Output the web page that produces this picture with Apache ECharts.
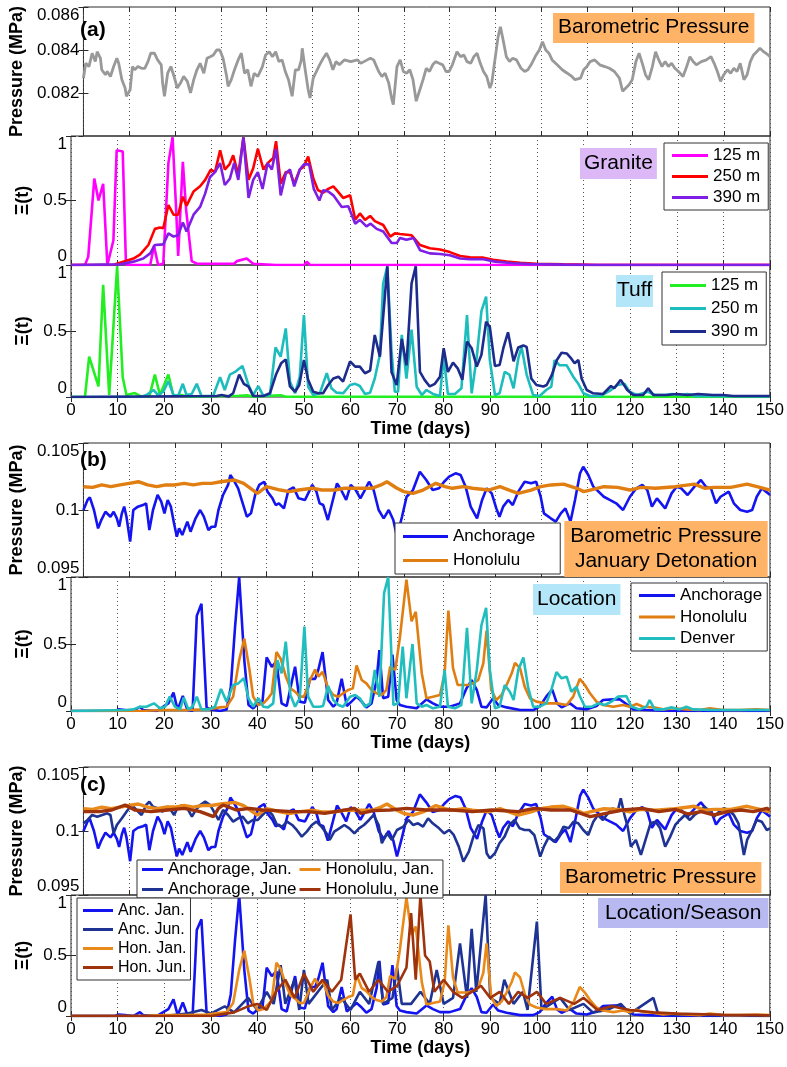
<!DOCTYPE html>
<html><head><meta charset="utf-8">
<script src="https://cdn.jsdelivr.net/npm/echarts@6/dist/echarts.min.js"></script>
<style>html,body{margin:0;padding:0;background:#fff}#c{width:787px;height:1067px}</style>
</head><body><div id="c"></div>
<script>
// ---------------- DATA (day, value) ----------------
const xTicks = [0,10,20,30,40,50,60,70,80,90,100,110,120,130,140,150];
const pressTicksA = [0.082,0.084,0.086];
const pressTicksB = [0.095,0.1,0.105];
const xiTicks = [0,0.5,1];

const pressA = [[0,0.08269],[0.5,0.08338],[1.2,0.08323],[1.9,0.08385],[2.6,0.08346],[3,0.08392],[3.7,0.08362],[4,0.08308],[4.8,0.08285],[5.2,0.0830],[5.9,0.08277],[6.6,0.08323],[7.3,0.08362],[7.7,0.08338],[8.4,0.08262],[9.1,0.08223],[9.4,0.08185],[10.2,0.08215],[10.7,0.08323],[11.2,0.08308],[11.9,0.08323],[12.7,0.08315],[13.4,0.08315],[14.1,0.08346],[14.7,0.08385],[15.5,0.08385],[16.2,0.08354],[17,0.08331],[17.3,0.08246],[17.7,0.08185],[18.4,0.08292],[19.1,0.08323],[19.8,0.08277],[20.5,0.08223],[21.2,0.08246],[21.9,0.08277],[22.7,0.08254],[23.4,0.0820],[24.1,0.08262],[24.8,0.08308],[25.5,0.08338],[26.3,0.08292],[27,0.08362],[27.7,0.08369],[28.4,0.08377],[29.1,0.0840],[29.8,0.0840],[30.5,0.08362],[31.3,0.08277],[31.6,0.08231],[32.3,0.08262],[33,0.08308],[33.8,0.08354],[34.5,0.08385],[35.2,0.08292],[35.9,0.08308],[36.6,0.08231],[37.3,0.08292],[38.1,0.08277],[39.1,0.08323],[39.8,0.08377],[40.6,0.08392],[41.3,0.08369],[42,0.08392],[42.7,0.08346],[43.4,0.08354],[44.1,0.0830],[44.8,0.08262],[45.6,0.08185],[46.3,0.08308],[47,0.08308],[47.6,0.08354],[47.8,0.08408],[48.4,0.08315],[49.1,0.08215],[49.5,0.08177],[50.2,0.08269],[50.9,0.0830],[51.6,0.08331],[52.4,0.08362],[53.1,0.08385],[53.8,0.08354],[54.5,0.08308],[55.2,0.08346],[55.9,0.08331],[57,0.08354],[58.4,0.08346],[59.9,0.08354],[60.6,0.08338],[61.3,0.08346],[62,0.08354],[62.7,0.08362],[63.4,0.08354],[64.5,0.0830],[65.2,0.08277],[65.9,0.08292],[66.7,0.08246],[67.4,0.08169],[67.7,0.08146],[68.5,0.08323],[69.2,0.08354],[69.9,0.0830],[70.6,0.08292],[71.3,0.08308],[72,0.08262],[72.7,0.08162],[73.5,0.08215],[74.2,0.08262],[74.9,0.08315],[75.6,0.0830],[76.3,0.08331],[77,0.08346],[77.7,0.08338],[78.5,0.08331],[79.2,0.0830],[79.9,0.0830],[80.6,0.08331],[81.6,0.08392],[82.4,0.08369],[83.1,0.08377],[83.8,0.08346],[84.6,0.08338],[85.3,0.08369],[86,0.08385],[86.7,0.08338],[87.4,0.0830],[88.1,0.08277],[88.8,0.08223],[89.2,0.08246],[89.9,0.08354],[90.6,0.08462],[91.1,0.08508],[91.7,0.08446],[92.4,0.08369],[93.1,0.08346],[93.8,0.08362],[94.6,0.08354],[95.6,0.08315],[96.4,0.0830],[97.1,0.08308],[97.8,0.08331],[98.9,0.08377],[99.6,0.0840],[100.3,0.08438],[101,0.0840],[101.7,0.08385],[102.4,0.08354],[103.5,0.08331],[104.6,0.08308],[105.7,0.08292],[106.7,0.08277],[107.4,0.08262],[108.6,0.08269],[109.3,0.08308],[110,0.08323],[110.7,0.08346],[111.7,0.08354],[112.8,0.08331],[113.9,0.08323],[114.9,0.08315],[116,0.0830],[117.1,0.08269],[117.8,0.08208],[118.5,0.08223],[119.2,0.08238],[119.9,0.08262],[120.7,0.08346],[121.4,0.08385],[122.1,0.08338],[122.8,0.08285],[123.5,0.08262],[124.3,0.08323],[125,0.08392],[125.7,0.08354],[126.4,0.08323],[127.1,0.08346],[127.8,0.08323],[128.5,0.08338],[129.2,0.08315],[130,0.0830],[131,0.08277],[131.8,0.08323],[132.5,0.08369],[133.2,0.08346],[133.9,0.08331],[135,0.08346],[136.1,0.08354],[137.1,0.08369],[137.8,0.08338],[138.5,0.0830],[139.2,0.08254],[139.9,0.08285],[140.7,0.08308],[141.4,0.08292],[142.1,0.08315],[142.8,0.0830],[143.5,0.08338],[144.3,0.08262],[145,0.08285],[145.7,0.08346],[146.4,0.08377],[147.1,0.08392],[147.8,0.08408],[148.6,0.08392],[149.6,0.08377],[150,0.08369]];

const granite125 = [[0,0],[3,0],[3.7,0.065],[5,0.67],[5.9,0.50],[6.9,0.63],[7.8,0],[9.1,0.19],[9.8,0.89],[11.1,0.88],[11.8,0],[17,0],[17.8,0.15],[18.7,0],[19.8,0.01],[20.9,0.79],[21.8,0.99],[22.5,0.48],[23,0.07],[24,0.80],[24.7,0.43],[25.9,0.03],[27,0.01],[30,0.01],[35,0.01],[35.6,0.03],[37.7,0.05],[39.1,0.01],[44,0],[50,0],[50.6,0.025],[51.3,0],[150,0]];
const granite250 = [[0,0],[9,0],[11.2,0.026],[13.4,0.05],[14.8,0.08],[16.6,0.155],[18,0.28],[19.1,0.29],[19.8,0.285],[20.9,0.465],[22,0.39],[23,0.39],[24,0.53],[24.8,0.46],[26.3,0.57],[27.7,0.61],[28.8,0.66],[30,0.74],[30.9,0.72],[32,0.89],[33,0.74],[34,0.78],[34.8,0.85],[35.9,0.70],[37,0.99],[38.1,0.66],[39.1,0.75],[40.1,0.90],[41.3,0.74],[42.2,0.79],[43.4,0.83],[44,0.96],[45,0.63],[46.1,0.72],[47,0.72],[47.9,0.63],[49.1,0.74],[49.9,0.76],[50.9,0.84],[52,0.67],[53,0.58],[54.1,0.56],[55.2,0.59],[56.3,0.61],[57,0.58],[58.4,0.52],[59.9,0.54],[61,0.35],[62,0.40],[63.1,0.35],[64.2,0.38],[65.2,0.34],[67,0.31],[68.5,0.22],[69.5,0.245],[70.6,0.24],[73.1,0.23],[74.9,0.155],[77,0.13],[79.2,0.12],[81.3,0.10],[83.5,0.07],[85.6,0.06],[88.5,0.057],[90.6,0.04],[93.5,0.026],[96.4,0.018],[99.9,0.01],[105.7,0.005],[113,0],[150,0]];
const granite390 = [[0,0],[10.5,0.005],[13.4,0.026],[15.5,0.05],[17,0.09],[18,0.155],[19.8,0.16],[20.9,0.245],[22,0.22],[23,0.23],[24,0.33],[24.8,0.26],[26.3,0.39],[27.7,0.45],[28.8,0.555],[29.8,0.68],[30.9,0.72],[32,0.79],[33,0.62],[34.1,0.67],[35,0.79],[35.9,0.66],[37,0.99],[38.1,0.52],[39.1,0.66],[40.1,0.72],[41.1,0.59],[42.2,0.79],[43.1,0.74],[44,0.90],[45,0.54],[46.1,0.71],[47,0.74],[47.9,0.61],[49.1,0.74],[50,0.78],[51.1,0.78],[52.1,0.59],[53.3,0.50],[54.1,0.58],[55.2,0.57],[56.3,0.54],[58.1,0.45],[59.5,0.455],[61,0.32],[62,0.35],[63.4,0.30],[64.3,0.32],[65.6,0.28],[67,0.26],[68.8,0.17],[69.9,0.17],[70.6,0.21],[72,0.195],[73.5,0.21],[74.9,0.115],[77,0.09],[79.2,0.085],[81.3,0.075],[83.5,0.05],[85.6,0.045],[88.5,0.045],[91,0.026],[95,0.013],[98.5,0.008],[105.7,0.003],[112,0],[150,0]];

const tuff125 = [[0,0],[3,0],[3.9,0.305],[5.9,0.08],[6.9,0.85],[8.2,0.015],[9.9,0.99],[11.1,0.15],[11.9,0.015],[13.7,0.03],[14.8,0.008],[16.8,0.003],[18,0.17],[19.1,0.015],[20.9,0.17],[22,0.008],[23.7,0.015],[25,0.003],[36,0.01],[38,0.012],[39,0.003],[45,0.013],[46,0.003],[150,0]];
const tuff250 = [[0,0],[15,0],[16.2,0.015],[17.7,0.053],[18.7,0.015],[19.8,0.04],[20.9,0.12],[22,0.015],[23,0.008],[24,0.10],[24.8,0.015],[25.9,0.023],[27,0.10],[28,0.008],[30.5,0.008],[32,0.15],[33,0.053],[34.1,0.17],[35.2,0.19],[36.8,0.235],[38.1,0.09],[39.1,0.015],[40.2,0.083],[41.3,0.008],[42.7,0.015],[43.9,0.375],[45,0.305],[46.1,0.52],[47,0.116],[48.1,0.028],[49.1,0.154],[50,0.62],[50.9,0.078],[52,0.015],[53.4,0.028],[54.9,0.18],[55.9,0.066],[57,0.033],[58.4,0.028],[59.9,0.091],[61,0.10],[62,0.083],[63.1,0.023],[64.2,0.033],[65.2,0.14],[66.3,0.32],[67,0.86],[67.9,0.99],[68.8,0.35],[69.5,0.04],[70.2,0.04],[71,0.47],[72,0.14],[73.1,0.51],[74.2,0.078],[75.3,0.015],[76.3,0.053],[77.7,0.023],[79.2,0.008],[80,0.305],[80.9,0.023],[82.4,0.023],[83.8,0.066],[85,0.62],[86,0.028],[87.1,0.305],[88.1,0.65],[89.1,0.76],[89.9,0.28],[91,0.015],[92,0.028],[93.1,0.19],[94.1,0.17],[95,0.066],[96,0.29],[96.7,0.38],[97.8,0.17],[99.2,0.015],[100.6,0.008],[102,0.053],[103.1,0.078],[103.8,0.28],[104.9,0.24],[106.4,0.24],[107.8,0.154],[108.9,0.10],[110,0.028],[111.4,0.008],[113.7,0.008],[115.9,0.053],[117.3,0.091],[118.8,0.10],[119.9,0.04],[121.4,0.015],[123.9,0.04],[125.3,0.015],[127.5,0.015],[129,0.023],[131,0.015],[132.3,0.023],[134,0.008],[150,0.005]];
const tuff390 = [[0,0],[31.3,0.008],[32.3,0.015],[33.8,0.003],[34.8,0.028],[36.1,0.17],[37.1,0.10],[38.1,0.078],[39.1,0.008],[41.3,0.008],[42.7,0.028],[44,0.17],[45.1,0.255],[46.1,0.285],[47,0.08],[48.1,0.04],[49,0.091],[50,0.28],[50.9,0.13],[52,0.04],[53.1,0.028],[54.1,0.028],[55.2,0.091],[56.3,0.14],[57.4,0.154],[58.4,0.116],[59.9,0.27],[61,0.23],[62,0.23],[63.1,0.18],[64.2,0.20],[65.2,0.47],[66.3,0.305],[67.9,0.99],[68.8,0.19],[69.9,0.09],[71,0.44],[72,0.24],[73.1,0.86],[74,0.99],[74.9,0.19],[75.9,0.13],[77,0.08],[78.1,0.10],[79.2,0.154],[80,0.37],[80.9,0.19],[82,0.26],[83,0.217],[84,0.13],[85,0.42],[86,0.37],[87.1,0.23],[88.1,0.32],[89.1,0.57],[89.9,0.53],[91,0.235],[92,0.242],[92.8,0.37],[93.8,0.49],[95,0.27],[96,0.375],[97.1,0.39],[97.8,0.38],[98.8,0.14],[99.9,0.091],[101.4,0.08],[102.1,0.091],[103.2,0.166],[104.3,0.28],[105.3,0.335],[106.4,0.33],[107.4,0.29],[108.1,0.255],[108.9,0.28],[109.6,0.14],[110.7,0.053],[112.1,0.028],[114.2,0.023],[115.9,0.083],[116.6,0.066],[118,0.13],[119.4,0.053],[120.7,0.015],[122.8,0.015],[123.9,0.066],[125,0.015],[127.9,0.015],[130,0.023],[132.3,0.015],[134.6,0.023],[137.8,0.015],[140,0.015],[142.1,0.008],[150,0.008]];

const pressAnchJan = [[0,0.1],[0.9,0.10075],[1.4,0.10094],[2.3,0.1],[3.2,0.09863],[3.9,0.09925],[4.8,0.09987],[5.9,0.0995],[6.6,0.09987],[7.3,0.09938],[7.8,0.09875],[8.4,0.09975],[8.9,0.10025],[9.4,0.0995],[10.2,0.09764],[10.9,0.1],[11.9,0.10025],[13,0.10037],[13.7,0.1005],[14.4,0.0985],[15.2,0.1],[16.2,0.10112],[17,0.10062],[17.7,0.09975],[18.4,0.10075],[19.1,0.10025],[19.8,0.099],[20.4,0.09801],[20.9,0.09863],[21.6,0.09813],[22.7,0.09913],[23.4,0.09838],[24.5,0.09938],[25.5,0.1],[26.3,0.0995],[27.3,0.0985],[28,0.09875],[28.8,0.09875],[29.5,0.1],[30.5,0.10112],[31.6,0.10187],[32.1,0.10261],[32.8,0.10224],[33.8,0.10162],[34.8,0.1005],[35.7,0.0995],[36.6,0.09975],[37.6,0.10124],[38.4,0.10187],[39.5,0.10211],[40.2,0.10137],[41.3,0.10087],[42,0.10037],[42.7,0.1005],[43.8,0.10012],[44.8,0.10149],[45.9,0.10169],[47,0.10087],[48.4,0.10075],[49.1,0.10124],[50,0.10187],[50.9,0.10137],[51.6,0.1005],[52.4,0.10037],[53.4,0.09925],[54.5,0.10075],[55.4,0.10199],[56.3,0.10149],[57.4,0.10075],[58.4,0.10187],[59.5,0.10149],[60.5,0.10087],[61.3,0.10137],[62.4,0.10211],[63.4,0.10149],[64.5,0.1],[65.6,0.09938],[66.7,0.1],[67.7,0.09925],[68.5,0.09801],[69.6,0.0995],[70.6,0.10099],[72,0.10149],[73.5,0.10286],[74.9,0.10224],[76.3,0.10149],[77.7,0.10162],[78.8,0.10211],[79.9,0.10249],[81.3,0.10274],[82.4,0.10261],[83.5,0.10174],[84.6,0.10025],[86,0.09938],[87.1,0.10075],[88.1,0.10162],[89.2,0.10124],[90.2,0.10012],[90.9,0.0995],[91.7,0.10025],[92.8,0.10075],[93.8,0.10037],[95,0.10137],[96.4,0.10211],[97.8,0.10199],[98.9,0.10211],[99.9,0.10099],[100.6,0.09975],[102.1,0.09938],[103.2,0.09913],[104.3,0.09975],[105.3,0.10012],[106.4,0.09913],[107.4,0.10075],[108.5,0.10274],[109.2,0.10323],[110.3,0.10261],[111.4,0.10174],[113.7,0.10099],[115,0.10075],[116.4,0.1005],[117.9,0.1],[119.4,0.10099],[120.8,0.10162],[122.1,0.10187],[123.2,0.10149],[124.2,0.10025],[125.3,0.10087],[127.1,0.10012],[128.5,0.10124],[129.6,0.10174],[130.6,0.10162],[132,0.10112],[133.5,0.10174],[134.9,0.10224],[136,0.10174],[137.1,0.10162],[138.2,0.1005],[139.2,0.10099],[141,0.10137],[142.1,0.1005],[143.5,0.1],[145,0.09987],[146.1,0.1],[147.1,0.10099],[148.2,0.10162],[149.6,0.10124],[150,0.10112]];
const pressHonJan = [[0,0.10174],[2,0.10169],[4,0.10187],[6,0.10174],[8,0.10187],[10,0.10199],[12,0.10211],[14,0.10187],[16,0.10174],[18,0.10187],[20,0.10187],[22,0.10199],[24,0.10187],[26,0.10199],[28,0.10199],[30,0.10211],[33,0.10224],[35,0.10199],[36.5,0.10162],[38,0.10124],[40,0.10174],[41.5,0.10162],[43,0.10149],[45,0.10137],[47,0.10149],[50,0.10162],[52,0.10149],[55,0.10149],[57,0.10162],[60,0.10162],[63,0.10162],[65,0.10187],[66.3,0.10211],[68.5,0.10162],[70,0.10137],[72,0.10124],[74.2,0.10149],[77,0.10199],[79,0.10174],[80.6,0.10162],[83,0.10174],[85,0.10162],[88.5,0.10149],[91,0.10174],[93,0.10149],[95,0.10124],[97.8,0.10149],[99.9,0.10174],[102.1,0.10187],[104.9,0.10193],[107.8,0.10162],[109.3,0.10137],[110.7,0.10149],[113.7,0.10174],[116.7,0.10169],[119.4,0.10149],[121.8,0.10169],[125,0.10162],[129.3,0.10174],[133.5,0.10193],[135.7,0.10162],[137.8,0.10169],[141.4,0.10169],[145,0.10193],[147.8,0.10169],[150,0.10149]];
const pressAnchJun = [[0,0.1006],[0.9,0.10086],[1.9,0.10125],[3,0.10112],[4.1,0.10125],[5.2,0.10138],[5.9,0.10125],[6.6,0.09982],[7.3,0.10047],[8.4,0.10099],[9.4,0.10151],[10.5,0.10203],[11.6,0.10164],[12.7,0.10125],[13.7,0.10203],[14.4,0.10229],[15.2,0.1019],[16.2,0.10177],[17.3,0.10151],[18.4,0.1019],[19.1,0.10164],[19.8,0.10125],[20.5,0.10177],[21.6,0.10203],[22.7,0.10177],[23.7,0.10112],[24.5,0.10164],[25.5,0.10203],[26.6,0.10229],[27.7,0.10203],[28.5,0.10151],[29.5,0.10086],[30.5,0.10164],[31.6,0.10125],[32.7,0.10073],[33.8,0.10099],[34.8,0.10112],[35.9,0.1006],[37,0.10086],[38.1,0.10086],[39.1,0.10125],[40.2,0.10164],[41.3,0.10125],[42.3,0.10047],[43.4,0.10034],[44.5,0.10073],[45.6,0.10047],[46.6,0.10008],[47.7,0.09956],[48.8,0.09995],[49.9,0.10047],[50.9,0.10073],[52,0.10034],[53.1,0.09982],[53.8,0.0993],[54.8,0.09995],[55.9,0.10021],[57,0.10047],[58.1,0.10021],[59.2,0.09982],[60.2,0.10021],[61.3,0.10047],[62.4,0.10086],[63.4,0.10125],[64.5,0.10047],[65.2,0.09904],[66.3,0.09982],[67.4,0.0993],[68.5,0.10008],[69.9,0.10034],[71,0.10086],[72,0.10047],[73.1,0.1006],[74.2,0.10034],[75.3,0.10099],[76.3,0.1006],[77.7,0.10021],[78.8,0.09982],[79.9,0.10008],[80.9,0.09969],[82,0.09878],[83,0.0976],[84.2,0.09839],[85.2,0.09956],[86.3,0.10047],[87.4,0.10021],[88.1,0.09826],[88.8,0.09786],[89.9,0.09826],[90.9,0.09904],[92,0.09956],[93.1,0.10047],[94.2,0.10086],[95.3,0.10021],[96.4,0.10008],[97.4,0.10008],[98.5,0.09969],[99.8,0.098],[100.6,0.09878],[101.7,0.09956],[102.8,0.09917],[103.8,0.09956],[104.9,0.10034],[106,0.10021],[107.1,0.10073],[108.1,0.1006],[109.2,0.10008],[110.3,0.09969],[111.4,0.10073],[112.4,0.10125],[113.5,0.10086],[114.6,0.10138],[115.6,0.10177],[116.7,0.10151],[117.4,0.10255],[118.2,0.10125],[118.9,0.10034],[119.6,0.09878],[120.7,0.0993],[121.8,0.09813],[122.8,0.0993],[123.9,0.1006],[125,0.10073],[126,0.10021],[127.1,0.09878],[128.2,0.09956],[129.3,0.10047],[130.3,0.10086],[131.4,0.10125],[132.5,0.10086],[133.5,0.10125],[134.6,0.10151],[135.7,0.1019],[136.8,0.10151],[137.8,0.10112],[138.9,0.10151],[139.9,0.10177],[141,0.10164],[142.1,0.10125],[143.1,0.1006],[144.3,0.09813],[145,0.0993],[146.1,0.10008],[147.1,0.10086],[148.2,0.10073],[149.3,0.10008],[150,0.10021]];
const pressHonJun = [[0,0.10151],[3.4,0.10151],[6.2,0.10164],[9.1,0.10203],[11.2,0.10164],[14.8,0.10151],[18.4,0.10164],[22,0.10177],[25.5,0.10151],[28.4,0.10112],[29.5,0.10177],[30.5,0.10203],[33.4,0.10164],[36.3,0.10177],[39.1,0.10164],[42,0.10159],[45.6,0.10151],[49.1,0.10151],[52.7,0.10138],[56.3,0.10159],[59.2,0.10177],[60.6,0.10138],[63.4,0.10159],[67,0.10164],[70.6,0.10177],[74.9,0.10164],[80.6,0.10164],[85,0.10151],[89.2,0.10164],[95,0.10151],[98.5,0.10177],[102.1,0.10164],[106.4,0.10164],[110.7,0.10112],[115,0.10143],[117.8,0.10164],[122.1,0.10177],[125.7,0.10151],[129.3,0.10169],[132.1,0.10133],[135,0.10151],[137.8,0.10125],[140.7,0.10151],[143.6,0.10164],[146.4,0.10151],[149.3,0.10177],[150,0.10164]];

const locAnchJan = [[0,0],[9.5,0],[10.2,0.012],[11.6,0.007],[13.4,0],[14.8,0.032],[15.5,0.007],[18.4,0],[19.8,0.032],[20.9,0.057],[22,0.137],[22.9,0.007],[24,0.112],[25,0.007],[26.1,0],[27,0.71],[28,0.80],[29.1,0.027],[30,0.012],[32,0],[33.4,0.012],[34.3,0.18],[35.2,0.62],[36.1,1.0],[37.2,0.38],[38.1,0.045],[39.1,0.02],[40.2,0.057],[41.1,0.07],[42,0.40],[43.1,0.33],[44.1,0.37],[45.2,0.057],[46.3,0.037],[47.4,0.22],[48.1,0.33],[49.1,0.07],[50.2,0.062],[51.3,0.24],[52.4,0.24],[53.1,0.31],[54,0.44],[55.2,0.082],[56.3,0.032],[57,0.057],[58.1,0.24],[59.2,0.037],[60.2,0.07],[61.3,0.107],[62.4,0.07],[63.4,0.027],[64.5,0.057],[65.6,0.23],[66.2,0.455],[67,0.095],[68.1,0.107],[69,0.42],[69.9,0.082],[70.6,0.045],[72,0.032],[74.2,0.02],[76.3,0.087],[77.7,0.057],[79.2,0.032],[81.3,0.032],[83.5,0.057],[84.9,0.17],[86,0.23],[87.1,0.157],[88.1,0.032],[89.2,0.027],[90.6,0.095],[91.7,0.045],[93.5,0.027],[96.4,0.007],[99.2,0.007],[100.6,0.032],[102,0.107],[103.3,0.16],[104.3,0.057],[105.3,0.027],[107.1,0.057],[108.5,0.02],[110.7,0.012],[112.8,0.037],[114.2,0.082],[116.4,0.087],[117.8,0.087],[119.2,0.052],[120.7,0.012],[123.5,0.007],[127.1,0.002],[130,0],[150,0]];
const locHonJan = [[0,0],[16,0.002],[20.5,0.007],[24.8,0.007],[29.1,0.012],[32,0.027],[33.4,0.032],[34.8,0.107],[36.1,0.38],[37.2,0.54],[38.3,0.31],[39.1,0.107],[40.2,0.045],[41.3,0.057],[42.3,0.095],[43.1,0.132],[44.1,0.44],[45,0.39],[46.1,0.26],[47.1,0.17],[48.1,0.144],[49.1,0.107],[50,0.107],[51.3,0.23],[52.4,0.31],[53.1,0.256],[54,0.293],[55.2,0.169],[56.3,0.119],[57.4,0.107],[58.4,0.132],[59.5,0.157],[60.5,0.169],[61.3,0.34],[62.4,0.231],[63.4,0.206],[64.5,0.157],[65.6,0.132],[66.7,0.119],[67.7,0.157],[68.5,0.331],[69.6,0.306],[70.6,0.55],[72,0.98],[73.1,0.67],[74,0.74],[75.3,0.28],[76.3,0.095],[77.7,0.107],[79.2,0.119],[80.2,0.281],[81,0.75],[82,0.32],[83,0.194],[84.1,0.194],[85.2,0.194],[86.2,0.206],[87.4,0.231],[88.5,0.356],[89.2,0.60],[90.2,0.157],[91.3,0.082],[92.4,0.119],[93.5,0.194],[94.6,0.281],[95.3,0.36],[96.4,0.318],[97.4,0.18],[98.5,0.095],[99.9,0.07],[102,0.057],[104.3,0.057],[106.4,0.045],[107.8,0.107],[109.2,0.24],[110.3,0.194],[111.4,0.132],[112.8,0.07],[114.2,0.045],[116.4,0.032],[118.5,0.045],[120,0.032],[121.4,0.052],[122.8,0.032],[125,0.027],[127.1,0.012],[129.3,0.02],[132.1,0.012],[135,0.007],[137.1,0.02],[140,0.007],[143.6,0.007],[147.1,0.012],[150,0.007]];
const locDenJan = [[0,0],[11.9,0.007],[13.4,0.012],[14.8,0.032],[16.2,0.032],[17.8,0.057],[19.1,0.02],[20.2,0.032],[21.2,0.107],[22.3,0.032],[23.4,0.012],[24.2,0.10],[25.2,0.012],[26.1,0.032],[27,0.107],[28,0.012],[29.5,0.012],[30.9,0.032],[32.2,0.164],[33.4,0.07],[34.8,0.194],[35.9,0.206],[37.1,0.244],[38.1,0.095],[39.1,0.032],[40.2,0.095],[41.3,0.032],[42.3,0.027],[43.4,0.057],[44.3,0.38],[45.2,0.281],[46.1,0.517],[47.1,0.119],[48.1,0.032],[49.1,0.095],[50.1,0.63],[50.9,0.107],[52,0.032],[53.4,0.032],[54.1,0.037],[55.2,0.187],[56.3,0.082],[57.4,0.045],[58.4,0.032],[59.9,0.107],[61,0.119],[62,0.095],[63.1,0.032],[64.2,0.057],[65.2,0.306],[66.2,0.107],[67.2,0.88],[68.1,1.0],[69.2,0.045],[70.2,0.057],[71.2,0.48],[72,0.095],[73.3,0.50],[74.2,0.057],[75.3,0.032],[76.3,0.045],[77.7,0.02],[79.2,0.032],[80.2,0.306],[80.9,0.032],[82.4,0.02],[83.8,0.045],[85,0.62],[86,0.057],[87.1,0.306],[88.1,0.64],[89.1,0.77],[89.9,0.306],[91,0.02],[92,0.032],[93.1,0.194],[94.2,0.144],[95,0.082],[96,0.306],[97.1,0.40],[98.1,0.18],[99.2,0.032],[100.6,0.032],[102,0.057],[103.1,0.157],[104.2,0.29],[105.3,0.244],[106.4,0.256],[107.4,0.144],[108.5,0.181],[109.2,0.112],[110.3,0.032],[111.8,0.032],[113.2,0.057],[114.6,0.045],[116,0.07],[117.4,0.107],[119.2,0.112],[120.3,0.032],[122,0.012],[123.5,0.032],[124.2,0.082],[125.3,0.012],[127.1,0.012],[128.9,0.027],[130.6,0.012],[132.1,0.032],[133.5,0.012],[137.8,0.007],[150,0.007]];

const seasonAncJun = [[0,0],[20,0],[25,0.02],[28,0.05],[30,0.02],[33,0.08],[35,0.03],[38,0.15],[40,0.05],[42,0.2],[43.5,0.1],[45,0.42],[46,0.1],[48,0.3],[49,0.05],[50,0.38],[51,0.1],[53,0.2],[55,0.3],[56,0.05],[58,0.15],[60,0.05],[62,0.2],[64,0.1],[66,0.45],[67,0.1],[69,0.15],[70,0.4],[71,0.1],[73,0.1],[75,0.2],[77,0.1],[78.5,0.38],[80,0.1],[82,0.15],[83.5,0.6],[85,0.15],[86,0.72],[87,0.2],[89,1.0],[90,0.15],[92,0.1],[93,0.3],[95,0.1],[97,0.2],[98,0.05],[100,0.78],[101,0.05],[103,0.1],[105,0.15],[107,0.05],[110,0.1],[112,0.03],[115,0.05],[118,0.1],[120,0.02],[125,0.15],[126,0.02],[130,0.01],[150,0]];
const seasonHonJun = [[0,0],[30,0],[35,0.03],[38,0.08],[40,0.1],[42,0.05],[44,0.2],[46,0.3],[48,0.15],[50,0.35],[52,0.2],[54,0.3],[56,0.2],[58,0.3],[60,0.84],[61,0.3],[62,0.35],[64,0.2],[66,0.3],[68,0.2],[70,0.25],[72,0.4],[73,0.85],[74,0.3],[75,1.0],[76,0.5],[77,0.45],[78,0.2],[80,0.3],[82,0.2],[84,0.15],[86,0.2],[88,0.25],[90,0.15],[92,0.2],[94,0.1],[96,0.2],[98,0.15],[100,0.2],[102,0.1],[105,0.15],[108,0.1],[110,0.15],[113,0.05],[116,0.08],[120,0.05],[125,0.03],[130,0.02],[140,0.01],[150,0.005]];

// ---------------- LAYOUT ----------------
const FONT = 'Liberation Sans, Arial, sans-serif';
const L = 71, R = 17;
const panels = [
  {top:7,   h:129, kind:'pA', xl:false},
  {top:136, h:129, kind:'xi', xl:false},
  {top:265, h:132, kind:'xi', xl:true},
  {top:443, h:134, kind:'pB', xl:false},
  {top:577, h:134, kind:'xi', xl:true},
  {top:767, h:128, kind:'pB', xl:false},
  {top:895, h:121, kind:'xi', xl:true}
];
const grid = [], xAxis = [], yAxis = [];
panels.forEach((p,i)=>{
  grid.push({left:L, right:R, top:p.top, height:p.h, show:true, borderColor:'#2a2a2a', borderWidth:1, containLabel:false});
  xAxis.push({type:'value', gridIndex:i, min:xTicks[0], max:xTicks[xTicks.length-1], interval:xTicks[1]-xTicks[0],
    axisLine:{show:false}, axisTick:{show:true, inside:true, length:5, lineStyle:{color:'#2a2a2a'}},
    splitLine:{show:true, lineStyle:{color:'#555', type:[1,3], width:1}},
    axisLabel:{show:p.xl, color:'#000', fontSize:17, fontFamily:FONT, margin:5},
    name:p.xl?'Time (days)':'', nameLocation:'middle', nameGap:21,
    nameTextStyle:{fontSize:18, fontWeight:'bold', color:'#000', fontFamily:FONT}});
  xAxis.push({type:'value', gridIndex:i, position:'top', min:xTicks[0], max:xTicks[xTicks.length-1], interval:xTicks[1]-xTicks[0],
    axisLine:{show:false}, axisTick:{show:true, inside:true, length:5, lineStyle:{color:'#2a2a2a'}},
    splitLine:{show:false}, axisLabel:{show:false}});
  let t = p.kind==='pA'?pressTicksA : (p.kind==='pB'?pressTicksB:xiTicks);
  let mn = p.kind==='pA'?0.080 : t[0];
  let itv = t[1]-t[0];
  let isP = p.kind!=='xi';
  yAxis.push({type:'value', gridIndex:i, min:mn, max:t[t.length-1], interval:itv,
    axisLine:{show:false}, axisTick:{show:true, inside:true, length:5, lineStyle:{color:'#2a2a2a'}},
    splitLine:{show:false},
    axisLabel:{color:'#000', fontSize:17, fontFamily:FONT, margin:4, showMinLabel:p.kind!=='pA',
      verticalAlignMinLabel:'bottom', verticalAlignMaxLabel:'top',
      formatter:v=>String(+v.toFixed(4))},
    name:isP?'Pressure (MPa)':'Ξ(t)', nameLocation:'middle', nameGap:isP?53:39,
    nameTextStyle:{fontSize:18, fontWeight:'bold', color:'#000', fontFamily:FONT}});
  yAxis.push({type:'value', gridIndex:i, position:'right', min:mn, max:t[t.length-1], interval:itv,
    axisLine:{show:false}, axisTick:{show:true, inside:true, length:5, lineStyle:{color:'#2a2a2a'}},
    splitLine:{show:false}, axisLabel:{show:false}});
});

function S(name, data, gi, color, w){
  return {type:'line', name, data, xAxisIndex:2*gi, yAxisIndex:2*gi, symbol:'none', showSymbol:false,
    lineStyle:{color, width:w||2.6}, itemStyle:{color}, animation:false, silent:true};
}
const C = {mag:'#FF00FF', red:'#FF0000', pur:'#7E1FE6', grn:'#22EE22', cyan:'#1EBDBD', navy:'#1C2B8C',
  blue:'#1414F0', orng:'#E07E12', den:'#22BEBE', anJun:'#1E3394', honJan:'#E8891A', honJun:'#9E330C'};
const series = [
  S('A|Barometric', pressA, 0, '#999999', 2.8),
  S('G|125 m', granite125, 1, C.mag), S('G|250 m', granite250, 1, C.red), S('G|390 m', granite390, 1, C.pur),
  S('T|125 m', tuff125, 2, C.grn), S('T|250 m', tuff250, 2, C.cyan), S('T|390 m', tuff390, 2, C.navy),
  S('P|Anchorage', pressAnchJan, 3, C.blue), S('P|Honolulu', pressHonJan, 3, C.orng, 3.4),
  S('L|Anchorage', locAnchJan, 4, C.blue), S('L|Honolulu', locHonJan, 4, C.orng), S('L|Denver', locDenJan, 4, C.den),
  S('C|Anchorage, Jan.', pressAnchJan, 5, C.blue), S('C|Anchorage, June', pressAnchJun, 5, C.anJun),
  S('C|Honolulu, Jan.', pressHonJan, 5, C.honJan, 3.4), S('C|Honolulu, June', pressHonJun, 5, C.honJun, 3.4),
  S('S|Anc. Jan.', locAnchJan, 6, C.blue), S('S|Anc. Jun.', seasonAncJun, 6, C.anJun),
  S('S|Hon. Jan.', locHonJan, 6, C.honJan), S('S|Hon. Jun.', seasonHonJun, 6, C.honJun)
];

function LG(data, left, top, o){
  return Object.assign({data, left, top, orient:'vertical', backgroundColor:'#fff', borderColor:'#333', borderWidth:1,
    borderRadius:0, padding:[4,8,4,8], icon:'rect', itemWidth:36, itemHeight:3, itemGap:4, selectedMode:false,
    formatter:n=>n.slice(2), textStyle:{fontSize:17, fontFamily:FONT, color:'#000', lineHeight:17}}, o||{});
}
const legend = [
  LG(['G|125 m','G|250 m','G|390 m'], 664, 143, {}),
  LG(['T|125 m','T|250 m','T|390 m'], 662, 272, {itemGap:6, padding:[5,8,5,8]}),
  LG(['P|Anchorage','P|Honolulu'], 395, 523, {itemWidth:45, itemGap:7, padding:[5,25,5,8]}),
  LG(['L|Anchorage','L|Honolulu','L|Denver'], 631, 583, {itemGap:4.5, padding:[4,5,4,8]}),
  LG(['C|Anchorage, Jan.','C|Anchorage, June','C|Honolulu, Jan.','C|Honolulu, June'], 137, 860,
     {itemWidth:21, itemGap:3, height:37, padding:[1,4,0,5], textStyle:{fontSize:17, fontFamily:FONT, color:'#000', lineHeight:16}}),
  LG(['S|Anc. Jan.','S|Anc. Jun.','S|Hon. Jan.','S|Hon. Jun.'], 77, 898,
     {itemWidth:30, itemGap:2, padding:[4,4,4,6], textStyle:{fontSize:16, fontFamily:FONT, color:'#000', lineHeight:17}})
];

function box(text, x, y, bg, pad, align){
  return {type:'text', z:100, x, y, style:{text, font:'21px '+FONT, fill:'#000', backgroundColor:bg,
    padding:pad||[3,4,3,4], align:align||'left', verticalAlign:'top', lineHeight:25}};
}
function tag(text, x, y){
  return {type:'text', z:100, x, y, style:{text, font:'bold 21px '+FONT, fill:'#000', align:'left', verticalAlign:'middle'}};
}
const ORANGE = '#FFB366', PURP = '#DCB9F6', CYAN = '#B3E6F9', LAV = '#B9B9F2';
const graphic = [
  tag('(a)', 80, 30), tag('(b)', 80, 460), tag('(c)', 80, 785),
  box('Barometric Pressure', 553, 13, ORANGE, [2,5,3,5]),
  box('Granite', 580, 148, PURP, [3,4,3,4]),
  box('Tuff', 616, 275, CYAN, [3,1,4,1]),
  box('Barometric Pressure\nJanuary Detonation', 666, 521, ORANGE, [3,6,3,6], 'center'),
  box('Location', 533, 584, CYAN, [3,4,3,4]),
  box('Barometric Pressure', 560, 862, ORANGE, [3,5,3,5]),
  box('Location/Season', 598, 898, LAV, [3,7,2,7])
];

const chart = echarts.init(document.getElementById('c'), null, {renderer:'canvas'});
chart.setOption({animation:false, backgroundColor:'#fff', textStyle:{fontFamily:FONT},
  grid, xAxis, yAxis, series, legend, graphic});
</script></body></html>
